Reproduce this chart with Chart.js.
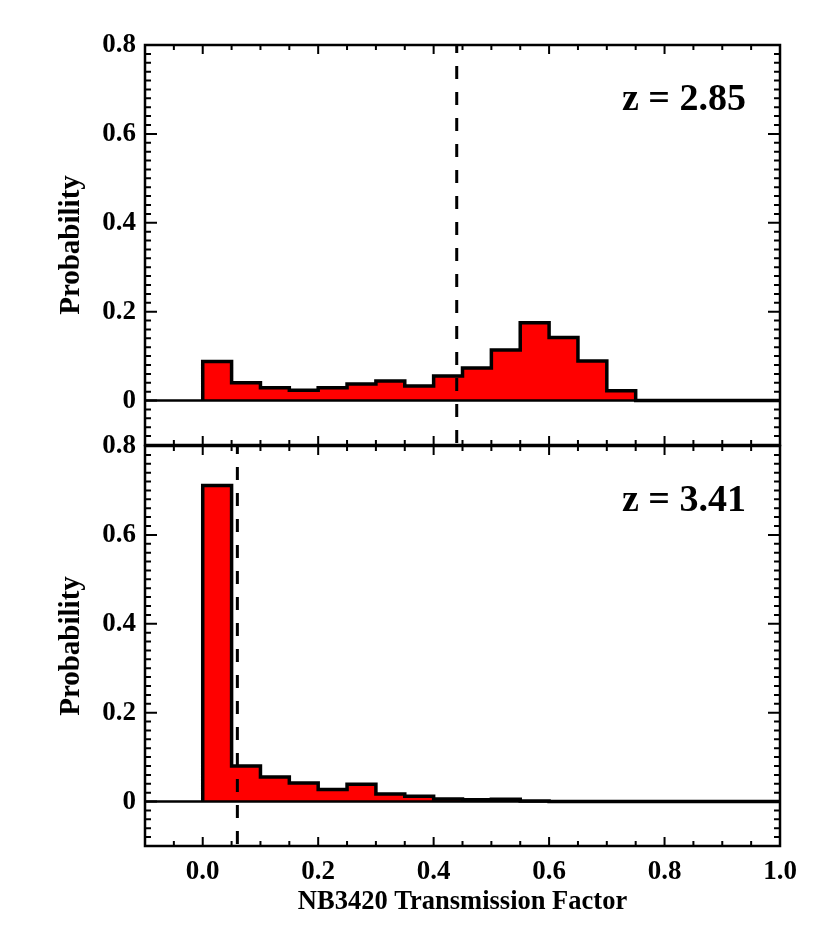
<!DOCTYPE html>
<html>
<head>
<meta charset="utf-8">
<script src="https://cdn.jsdelivr.net/npm/chart.js@4.4.1/dist/chart.umd.min.js"></script>
<style>
  body { margin: 0; background: #fff; }
  #wrap { position: relative; width: 830px; height: 939px; }
  canvas { position: absolute; left: 0; }
  #top { top: 0; }
  #bottom { top: 431px; }
</style>
</head>
<body>
<div id="wrap">
  <canvas id="top" width="830" height="460"></canvas>
  <canvas id="bottom" width="830" height="508"></canvas>
</div>
<script>
// histogram bins, left edges (bin width 0.05)
const binEdges = [0.00, 0.05, 0.10, 0.15, 0.20, 0.25, 0.30, 0.35, 0.40, 0.45,
                  0.50, 0.55, 0.60, 0.65, 0.70, 0.75, 0.80, 0.85, 0.90, 0.95];
const binEnd = 1.0;

const probZ285 = [0.088, 0.040, 0.029, 0.023, 0.029, 0.037, 0.044, 0.033, 0.055, 0.073,
                  0.114, 0.175, 0.142, 0.089, 0.022, 0, 0, 0, 0, 0];
const probZ341 = [0.711, 0.080, 0.055, 0.042, 0.027, 0.039, 0.017, 0.012, 0.006, 0.004,
                  0.005, 0.001, 0, 0, 0, 0, 0, 0, 0, 0];

const cutZ285 = 0.44;
const cutZ341 = 0.06;

const xTicks = [0.0, 0.2, 0.4, 0.6, 0.8, 1.0];
const xTickLabels = ["0.0", "0.2", "0.4", "0.6", "0.8", "1.0"];
const yTicks = [0, 0.2, 0.4, 0.6, 0.8];
const yTickLabels = ["0", "0.2", "0.4", "0.6", "0.8"];

const X_MIN = -0.1, X_MAX = 1.0;
const Y_MIN = -0.1, Y_MAX = 0.8;

const FONT = "'Liberation Serif', 'Times New Roman', serif";

function histPoints(values) {
  const pts = [{ x: binEdges[0], y: 0 }];
  binEdges.forEach((e, i) => pts.push({ x: e, y: values[i] }));
  pts.push({ x: binEnd, y: 0 });
  return pts;
}

// frame, inward ticks and the redshift label
function framePlugin(label) {
  return {
    id: "frame",
    afterDatasetsDraw(chart) {
      const { ctx, chartArea: a, scales } = chart;
      const xs = scales.x, ys = scales.y;
      ctx.save();
      ctx.strokeStyle = "#000";
      ctx.lineWidth = 2;
      // x ticks (top + bottom)
      for (let i = 0; i <= 22; i++) {
        const v = X_MIN + i * 0.05;
        const px = xs.getPixelForValue(v);
        const major = xTicks.some((t) => Math.abs(t - v) < 1e-6);
        const len = major ? 9 : 5;
        ctx.beginPath();
        ctx.moveTo(px, a.top); ctx.lineTo(px, a.top + len);
        ctx.moveTo(px, a.bottom); ctx.lineTo(px, a.bottom - len);
        ctx.stroke();
      }
      // y ticks (left + right)
      for (let i = 0; i <= 45; i++) {
        const v = Y_MIN + i * 0.02;
        const py = ys.getPixelForValue(v);
        const major = yTicks.some((t) => Math.abs(t - v) < 1e-6);
        const len = major ? 12 : 6;
        ctx.beginPath();
        ctx.moveTo(a.left, py); ctx.lineTo(a.left + len, py);
        ctx.moveTo(a.right, py); ctx.lineTo(a.right - len, py);
        ctx.stroke();
      }
      ctx.lineWidth = 2.5;
      ctx.strokeRect(a.left, a.top, a.right - a.left, a.bottom - a.top);
      ctx.fillStyle = "#000";
      ctx.font = "bold 38px " + FONT;
      ctx.textAlign = "right";
      ctx.textBaseline = "alphabetic";
      ctx.fillText(label, a.right - 34, a.top + 65);
      ctx.restore();
    },
  };
}

function makeChart(canvasId, values, cut, label, isBottom) {
  const ctx = document.getElementById(canvasId).getContext("2d");
  return new Chart(ctx, {
    type: "line",
    data: {
      datasets: [
        {
          data: histPoints(values),
          stepped: true,
          borderColor: "#000",
          borderWidth: 3.5,
          backgroundColor: "#ff0000",
          fill: "origin",
          pointRadius: 0,
          order: 1,
        },
        {
          data: [{ x: X_MIN, y: 0 }, { x: X_MAX, y: 0 }],
          borderColor: "#000",
          borderWidth: 2.5,
          pointRadius: 0,
          fill: false,
          order: 0,
        },
        {
          data: [{ x: cut, y: Y_MAX }, { x: cut, y: Y_MIN }],
          borderColor: "#000",
          borderWidth: 3,
          borderDash: [13, 13],
          borderDashOffset: 5,
          pointRadius: 0,
          fill: false,
          order: 0,
        },
      ],
    },
    options: {
      responsive: false,
      animation: false,
      devicePixelRatio: 1,
      layout: { padding: { left: 0, right: 50, top: isBottom ? 15 : 45, bottom: isBottom ? 0 : 15 } },
      plugins: { legend: { display: false }, tooltip: { enabled: false } },
      scales: {
        x: {
          type: "linear",
          min: X_MIN,
          max: X_MAX,
          display: isBottom,
          grid: { display: false, drawTicks: false },
          border: { display: false },
          afterBuildTicks(scale) {
            scale.ticks = xTicks.map((v) => ({ value: v }));
          },
          afterFit(scale) {
            if (isBottom) scale.height = 93;
          },
          ticks: {
            autoSkip: false,
            maxRotation: 0,
            padding: 13,
            color: "#000",
            font: { family: FONT, size: 27, weight: "bold", lineHeight: 1 },
            callback: (v) => xTickLabels[xTicks.findIndex((t) => Math.abs(t - v) < 1e-6)],
          },
          title: {
            display: true,
            text: "NB3420 Transmission Factor",
            color: "#000",
            padding: { top: 0, bottom: 24 },
            font: { family: FONT, size: 26.5, weight: "bold", lineHeight: 1 },
          },
        },
        y: {
          type: "linear",
          min: Y_MIN,
          max: Y_MAX,
          grid: { display: false, drawTicks: false },
          border: { display: false },
          afterBuildTicks(scale) {
            scale.ticks = yTicks.map((v) => ({ value: v }));
          },
          afterFit(scale) {
            scale.width = 145;
            scale.paddingTop = 0;
            scale.paddingBottom = 0;
          },
          ticks: {
            padding: 9,
            color: "#000",
            font: { family: FONT, size: 27, weight: "bold", lineHeight: 1 },
            callback: (v) => yTickLabels[yTicks.findIndex((t) => Math.abs(t - v) < 1e-6)],
          },
          title: {
            display: true,
            text: "Probability",
            color: "#000",
            padding: { top: 57, bottom: 0 },
            font: { family: FONT, size: 29, weight: "bold", lineHeight: 1 },
          },
        },
      },
    },
    plugins: [framePlugin(label)],
  });
}

makeChart("top", probZ285, cutZ285, "z = 2.85", false);
makeChart("bottom", probZ341, cutZ341, "z = 3.41", true);
</script>
</body>
</html>
